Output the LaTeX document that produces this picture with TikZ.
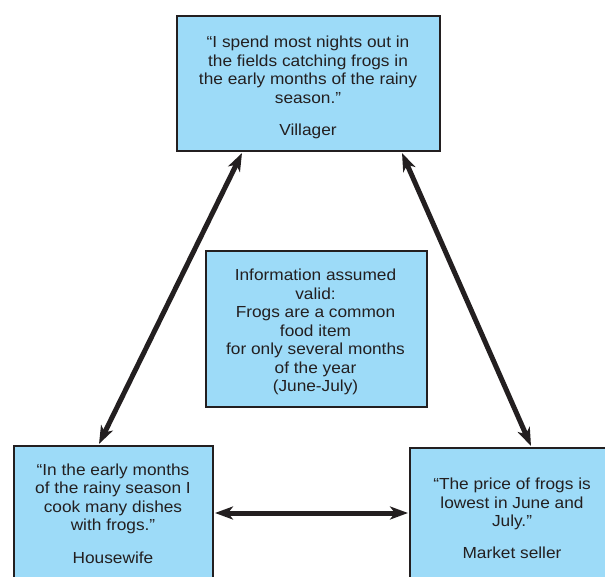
\documentclass[tikz,border=0pt]{standalone}
\usepackage{fontspec}
\setmainfont{Liberation Sans}[FakeStretch=1.08]
\usetikzlibrary{arrows.meta,calc}
\definecolor{boxblue}{HTML}{9DDBF8}
\definecolor{edgegray}{HTML}{231F20}
\tikzset{
  box/.style={draw=edgegray, fill=boxblue, line width=2pt, rectangle, inner sep=0pt, anchor=north west},
  txt/.style={font=\fontsize{16}{18.5}\selectfont, align=center, inner sep=0pt, text=edgegray, anchor=base},
  dbl/.style={draw=edgegray, line width=5pt, {Stealth[length=18pt,width=13pt,inset=5pt]}-{Stealth[length=18pt,width=13pt,inset=5pt]}}
}
\begin{document}
\begin{tikzpicture}[x=1pt,y=-1pt]
\useasboundingbox (0,0) rectangle (605,577);
\begin{scope}
\clip (0,0) rectangle (605,577);
\node[box, minimum width=263pt, minimum height=135pt] (vil) at (176,15) {};
\node[box, minimum width=199pt, minimum height=200pt] (hw) at (13,445) {};
\node[box, minimum width=220pt, minimum height=200pt] (mk) at (409,447) {};
\node[box, minimum width=221pt, minimum height=156pt] (info) at (205,250) {};

\node[txt] (viltxt) at (308,103.3) {“I spend most nights out in\\the fields catching frogs in\\the early months of the rainy\\season.”};
\node[txt] (villbl) at (308,136) {Villager};

\node[txt] (hwtxt) at (113,530.5) {“In the early months\\of the rainy season I\\cook many dishes\\with frogs.”};
\node[txt] (hwlbl) at (113,563) {Housewife};

\node[txt] (mktxt) at (512,526.7) {“The price of frogs is\\lowest in June and\\July.”};
\node[txt] (mklbl) at (512,558.5) {Market seller};

\node[txt] (infotxt) at (315.5,391.7) {Information assumed\\valid:\\Frogs are a common\\food item\\for only several months\\of the year\\(June-July)};
\end{scope}

\draw[dbl] ([xshift=66pt,yshift=-1pt]vil.south west) -- ([xshift=86pt,yshift=1pt]hw.north west);
\draw[dbl] ([xshift=226pt,yshift=-1pt]vil.south west) -- ([xshift=122pt,yshift=1pt]mk.north west);
\draw[dbl] ([xshift=1pt,yshift=-68pt]hw.north east) -- ([xshift=-1pt,yshift=-66pt]mk.north west);
\end{tikzpicture}
\end{document}
